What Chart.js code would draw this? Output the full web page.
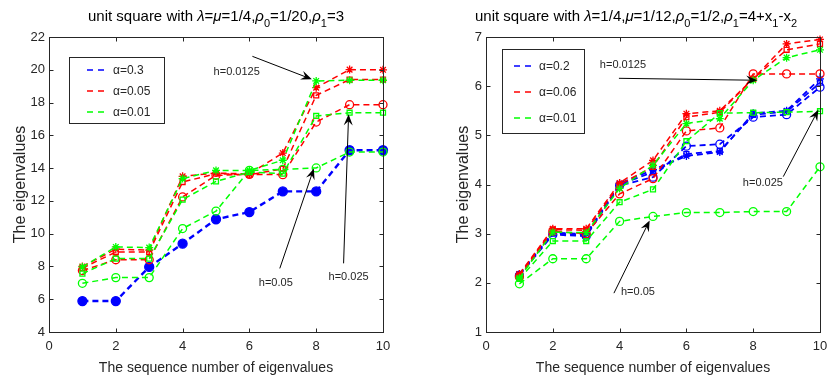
<!DOCTYPE html>
<html>
<head>
<meta charset="utf-8">
<script src="https://cdn.jsdelivr.net/npm/chart.js@4.4.0/dist/chart.umd.min.js"></script>
<style>
html, body { margin: 0; padding: 0; background: #fff; overflow: hidden; width: 827px; height: 382px; }
#left { position: absolute; left: 0; top: 0; }
#right { position: absolute; left: 413px; top: 0; }
</style>
</head>
<body>
<canvas id="left" width="413" height="382"></canvas>
<canvas id="right" width="460" height="382"></canvas>
<script>
// ---- data ----
var seqNumbers = [1, 2, 3, 4, 5, 6, 7, 8, 9, 10];
var xTicks = [0, 2, 4, 6, 8, 10];
var leftYTicks = [4, 6, 8, 10, 12, 14, 16, 18, 20, 22];
var rightYTicks = [1, 2, 3, 4, 5, 6, 7];
var leftAlphaLabels = ['α=0.3', 'α=0.05', 'α=0.01'];
var rightAlphaLabels = ['α=0.2', 'α=0.06', 'α=0.01'];
var hLabels = ['h=0.05', 'h=0.025', 'h=0.0125'];

// left panel: lambda=mu=1/4, rho0=1/20, rho1=3
var leftBlue      = [5.89, 5.89, 7.97, 9.39, 10.88, 11.32, 12.58, 12.58, 15.09, 15.09];
var leftRedH05    = [7.75, 8.41, 8.41, 12.24, 13.56, 13.62, 13.60, 16.81, 17.87, 17.87];
var leftRedH025   = [7.90, 8.88, 8.88, 13.15, 13.66, 13.60, 13.95, 18.44, 19.40, 19.40];
var leftRedH0125  = [8.00, 9.05, 9.00, 13.50, 13.70, 13.65, 14.92, 18.91, 20.01, 20.00];
var leftGreenH05  = [6.97, 7.32, 7.32, 10.31, 11.38, 13.86, 13.92, 14.01, 14.98, 14.98];
var leftGreenH025 = [7.56, 8.48, 8.48, 12.08, 13.19, 13.76, 13.66, 17.18, 17.38, 17.38];
var leftGreenH0125 = [7.97, 9.19, 9.15, 13.36, 13.86, 13.86, 14.48, 19.32, 19.36, 19.36];

// right panel: lambda=1/4, mu=1/12, rho0=1/2, rho1=4+x1-x2
var rightBlueH05   = [2.15, 2.98, 2.95, 3.98, 4.15, 4.78, 4.82, 5.37, 5.42, 5.98];
var rightBlueH025  = [2.17, 3.00, 2.97, 4.00, 4.25, 4.62, 4.68, 5.42, 5.48, 6.07];
var rightBlueH0125 = [2.18, 3.02, 2.99, 4.02, 4.30, 4.58, 4.66, 5.45, 5.50, 6.15];
var rightRedH05    = [2.12, 3.05, 3.00, 3.81, 4.12, 5.09, 5.15, 6.25, 6.25, 6.25];
var rightRedH025   = [2.15, 3.08, 3.07, 4.00, 4.36, 5.37, 5.47, 6.15, 6.74, 6.86];
var rightRedH0125  = [2.18, 3.10, 3.10, 4.03, 4.49, 5.44, 5.50, 6.15, 6.86, 6.95];
var rightGreenH05  = [1.98, 2.49, 2.49, 3.25, 3.35, 3.43, 3.43, 3.45, 3.45, 4.36];
var rightGreenH025 = [2.08, 2.85, 2.85, 3.64, 3.90, 4.88, 5.45, 5.46, 5.47, 5.49];
var rightGreenH0125 = [2.10, 3.03, 3.02, 3.92, 4.39, 5.24, 5.34, 6.12, 6.58, 6.74];

var BLUE = '#0000ff', RED = '#ff0000', GREEN = '#00ff00', INK = '#262626';
var FONT = '"Liberation Sans", Arial, sans-serif';

function buildDatasets(series) {
    // later entries end up on top
    return series.map(function (s, i) {
        var bg = s.filled ? s.color : 'rgba(0,0,0,0)';
        return {
            data: seqNumbers.map(function (n, k) { return {x: n, y: s.values[k]}; }),
            borderColor: s.color,
            backgroundColor: bg,
            borderWidth: s.width || 1.5,
            borderDash: [6, 4],
            pointStyle: s.marker,
            pointRadius: s.radius || 4,
            pointBorderWidth: 1.3,
            pointBackgroundColor: bg,
            pointBorderColor: s.color,
            tension: 0,
            fill: false,
            clip: false,
            order: series.length - i
        };
    });
}

function makeFigurePlugin(cfg) {
    return {
        id: 'figure',
        afterDraw: function (chart) {
            var ctx = chart.ctx, a = chart.chartArea;
            var xs = chart.scales.x, ys = chart.scales.y;
            ctx.save();

            // axes box + inward ticks (MATLAB style)
            ctx.strokeStyle = INK;
            ctx.lineWidth = 1;
            var L = Math.round(a.left) + 0.5, R = Math.round(a.right) + 0.5;
            var T = Math.round(a.top) + 0.5, B = Math.round(a.bottom) + 0.5;
            ctx.strokeRect(L, T, R - L, B - T);
            ctx.beginPath();
            xs.ticks.forEach(function (t) {
                var px = Math.round(xs.getPixelForValue(t.value)) + 0.5;
                ctx.moveTo(px, B); ctx.lineTo(px, B - 4);
                ctx.moveTo(px, T); ctx.lineTo(px, T + 4);
            });
            ys.ticks.forEach(function (t) {
                var py = Math.round(ys.getPixelForValue(t.value)) + 0.5;
                ctx.moveTo(L, py); ctx.lineTo(L + 4, py);
                ctx.moveTo(R, py); ctx.lineTo(R - 4, py);
            });
            ctx.stroke();

            // title with subscripts
            var pieces = cfg.title.map(function (p) {
                var f = p[1] === 'sub' ? '11px ' + FONT : (p[1] === 'g' ? 'italic 15px ' + FONT : '15px ' + FONT);
                ctx.font = f;
                return {text: p[0], font: f, sub: p[1] === 'sub', w: ctx.measureText(p[0]).width};
            });
            var total = pieces.reduce(function (s, p) { return s + p.w; }, 0);
            var tx = cfg.titleOffset !== undefined ? a.left + cfg.titleOffset : (a.left + a.right) / 2 - total / 2;
            ctx.fillStyle = '#000';
            ctx.textBaseline = 'alphabetic';
            ctx.textAlign = 'left';
            pieces.forEach(function (p) {
                ctx.font = p.font;
                ctx.fillText(p.text, tx, p.sub ? 27 : 21);
                tx += p.w;
            });

            // legend
            var lg = cfg.legend;
            var bx = a.left + lg.dx, by = a.top + lg.dy;
            ctx.fillStyle = '#fff';
            ctx.fillRect(bx, by, lg.w, lg.h);
            ctx.strokeStyle = INK;
            ctx.lineWidth = 1;
            ctx.strokeRect(Math.round(bx) + 0.5, Math.round(by) + 0.5, lg.w, lg.h);
            ctx.font = '12px ' + FONT;
            ctx.textBaseline = 'middle';
            lg.labels.forEach(function (lab, i) {
                var yy = by + lg.first + i * lg.step;
                ctx.strokeStyle = lg.colors[i];
                ctx.lineWidth = 1.6;
                ctx.setLineDash([6, 5]);
                ctx.beginPath();
                ctx.moveTo(bx + lg.lineX, yy);
                ctx.lineTo(bx + lg.lineX + 20, yy);
                ctx.stroke();
                ctx.setLineDash([]);
                ctx.fillStyle = INK;
                ctx.fillText(lab, bx + lg.textX, yy + 1);
            });

            // annotations with arrows
            ctx.font = '11px ' + FONT;
            ctx.textAlign = 'center';
            ctx.textBaseline = 'middle';
            cfg.notes.forEach(function (n) {
                ctx.fillStyle = INK;
                ctx.fillText(n.text, xs.getPixelForValue(n.tx), ys.getPixelForValue(n.ty));
                var x1 = xs.getPixelForValue(n.from[0]), y1 = ys.getPixelForValue(n.from[1]);
                var x2 = xs.getPixelForValue(n.to[0]), y2 = ys.getPixelForValue(n.to[1]);
                var ang = Math.atan2(y2 - y1, x2 - x1);
                ctx.strokeStyle = '#000';
                ctx.lineWidth = 1;
                ctx.beginPath();
                ctx.moveTo(x1, y1);
                ctx.lineTo(x2 - 6 * Math.cos(ang), y2 - 6 * Math.sin(ang));
                ctx.stroke();
                ctx.fillStyle = '#000';
                ctx.beginPath();
                ctx.moveTo(x2, y2);
                ctx.lineTo(x2 - 11 * Math.cos(ang) + 4.5 * Math.sin(ang), y2 - 11 * Math.sin(ang) - 4.5 * Math.cos(ang));
                ctx.lineTo(x2 - 7 * Math.cos(ang), y2 - 7 * Math.sin(ang));
                ctx.lineTo(x2 - 11 * Math.cos(ang) - 4.5 * Math.sin(ang), y2 - 11 * Math.sin(ang) + 4.5 * Math.cos(ang));
                ctx.closePath();
                ctx.fill();
            });
            ctx.restore();
        }
    };
}

function makeChart(id, cfg) {
    return new Chart(document.getElementById(id), {
        type: 'line',
        data: {datasets: buildDatasets(cfg.series)},
        options: {
            responsive: false,
            animation: false,
            events: [],
            layout: {padding: cfg.padding},
            plugins: {legend: {display: false}, tooltip: {enabled: false}, title: {display: false}},
            scales: {
                x: {
                    type: 'linear', min: 0, max: 10,
                    afterBuildTicks: function (s) { s.ticks = xTicks.map(function (v) { return {value: v}; }); },
                    afterFit: function (s) { s.height = 50; },
                    grid: {display: false, drawTicks: false},
                    border: {display: false},
                    ticks: {font: {family: FONT, size: 13}, color: INK, padding: 7, maxRotation: 0, autoSkip: false},
                    title: {display: true, text: 'The sequence number of eigenvalues', color: INK,
                        font: {family: FONT, size: 14}, padding: {top: 0, bottom: 5}}
                },
                y: {
                    type: 'linear', min: cfg.yTicks[0], max: cfg.yTicks[cfg.yTicks.length - 1],
                    afterBuildTicks: function (s) { s.ticks = cfg.yTicks.map(function (v) { return {value: v}; }); },
                    afterFit: function (s) { s.width = 49; },
                    grid: {display: false, drawTicks: false},
                    border: {display: false},
                    ticks: {font: {family: FONT, size: 13}, color: INK, padding: 4, autoSkip: false},
                    title: {display: true, text: 'The eigenvalues', color: INK,
                        font: {family: FONT, size: 16}, padding: {top: cfg.yTitlePad, bottom: 0}}
                }
            }
        },
        plugins: [makeFigurePlugin(cfg)]
    });
}

makeChart('left', {
    padding: {left: 0, top: 37, right: 30, bottom: 0},
    yTicks: leftYTicks,
    yTitlePad: 11,
    series: [
        {values: leftBlue, color: BLUE, marker: 'circle', filled: true, radius: 4.5, width: 2.4},
        {values: leftRedH05, color: RED, marker: 'circle'},
        {values: leftRedH025, color: RED, marker: 'rect', radius: 3.5},
        {values: leftRedH0125, color: RED, marker: 'star'},
        {values: leftGreenH05, color: GREEN, marker: 'circle'},
        {values: leftGreenH025, color: GREEN, marker: 'rect', radius: 3.5},
        {values: leftGreenH0125, color: GREEN, marker: 'star'}
    ],
    title: [['unit square with ', 'n'], ['λ', 'g'], ['=', 'n'], ['μ', 'g'], ['=1/4,', 'n'], ['ρ', 'g'], ['0', 'sub'],
        ['=1/20,', 'n'], ['ρ', 'g'], ['1', 'sub'], ['=3', 'n']],
    legend: {dx: 20, dy: 20, w: 95, h: 66, first: 13, step: 21, lineX: 18, textX: 44,
        labels: leftAlphaLabels, colors: [BLUE, RED, GREEN]},
    notes: [
        {text: hLabels[2], tx: 5.62, ty: 19.85, from: [6.09, 20.82], to: [7.87, 19.42]},
        {text: hLabels[0], tx: 6.79, ty: 6.97, from: [6.91, 7.88], to: [7.93, 13.98]},
        {text: hLabels[1], tx: 8.97, ty: 7.33, from: [8.82, 8.19], to: [8.97, 17.28]}
    ]
});

makeChart('right', {
    padding: {left: 24, top: 37, right: 53, bottom: 0},
    yTicks: rightYTicks,
    yTitlePad: 17,
    titleOffset: -11,
    series: [
        {values: rightBlueH05, color: BLUE, marker: 'circle', width: 1.8},
        {values: rightBlueH025, color: BLUE, marker: 'rect', radius: 3.5, width: 1.8},
        {values: rightBlueH0125, color: BLUE, marker: 'star', width: 1.8},
        {values: rightRedH05, color: RED, marker: 'circle'},
        {values: rightRedH025, color: RED, marker: 'rect', radius: 3.5},
        {values: rightRedH0125, color: RED, marker: 'star'},
        {values: rightGreenH05, color: GREEN, marker: 'circle'},
        {values: rightGreenH025, color: GREEN, marker: 'rect', radius: 3.5},
        {values: rightGreenH0125, color: GREEN, marker: 'star'}
    ],
    title: [['unit square with ', 'n'], ['λ', 'g'], ['=1/4,', 'n'], ['μ', 'g'], ['=1/12,', 'n'], ['ρ', 'g'], ['0', 'sub'],
        ['=1/2,', 'n'], ['ρ', 'g'], ['1', 'sub'], ['=4+x', 'n'], ['1', 'sub'], ['-x', 'n'], ['2', 'sub']],
    legend: {dx: 16, dy: 12, w: 82, h: 84, first: 17, step: 26, lineX: 12, textX: 37,
        labels: rightAlphaLabels, colors: [BLUE, RED, GREEN]},
    notes: [
        {text: hLabels[2], tx: 4.10, ty: 6.44, from: [3.98, 6.16], to: [8.12, 6.12]},
        {text: hLabels[1], tx: 8.29, ty: 4.04, from: [8.90, 4.16], to: [9.95, 5.52]},
        {text: hLabels[0], tx: 4.55, ty: 1.82, from: [3.83, 1.79], to: [4.90, 3.27]}
    ]
});
</script>
</body>
</html>
